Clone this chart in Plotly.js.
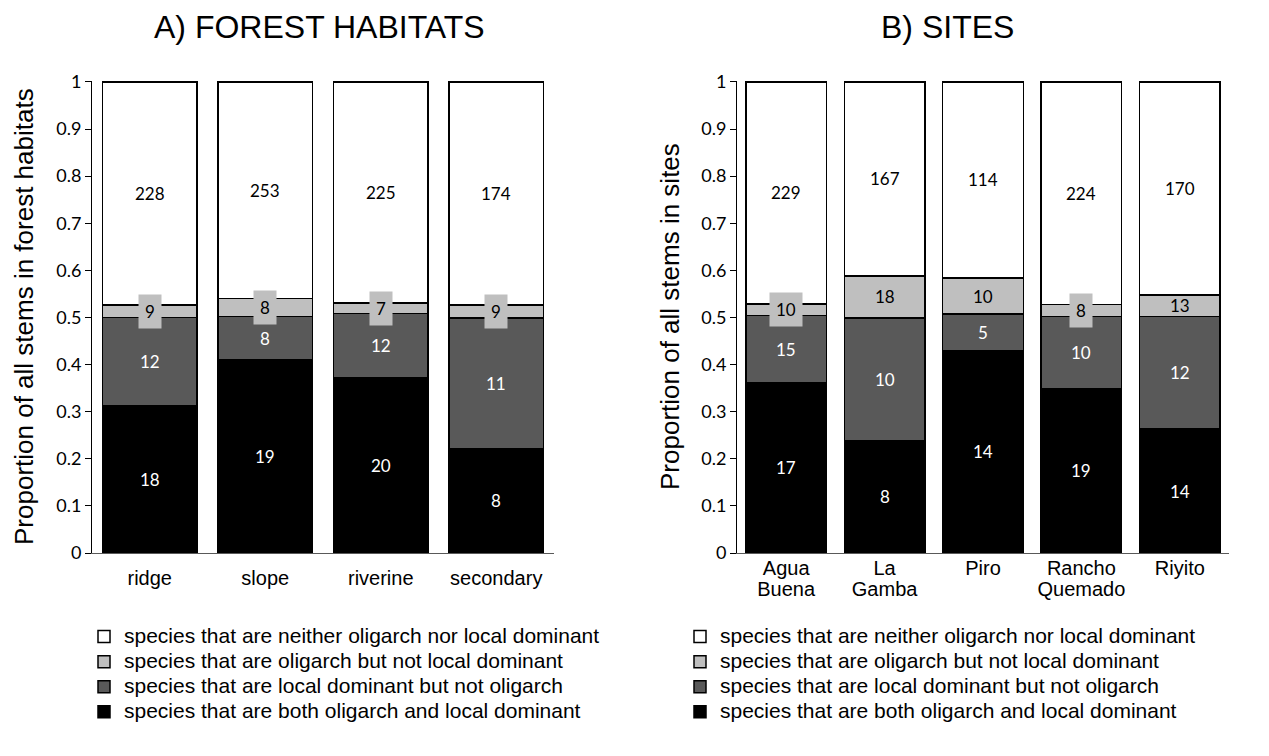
<!DOCTYPE html>
<html><head><meta charset="utf-8">
<script src="https://cdn.plot.ly/plotly-3.0.1.min.js"></script>
<style>html,body{margin:0;padding:0;background:#fff}#chart{width:1269px;height:756px}</style>
</head><body><div id="chart"></div>
<script>
// ---- data ----
const habitats = ['ridge', 'slope', 'riverine', 'secondary'];
const sites = ['Agua Buena', 'La Gamba', 'Piro', 'Rancho Quemado', 'Riyito'];
const seriesNames = [
  'species that are both oligarch and local dominant',
  'species that are local dominant but not oligarch',
  'species that are oligarch but not local dominant',
  'species that are neither oligarch nor local dominant'
];
// proportions of stems (bottom to top)
const habBoth    = [0.313, 0.410, 0.372, 0.221];
const habLocal   = [0.187, 0.092, 0.136, 0.278];
const habOlig    = [0.027, 0.038, 0.023, 0.028];
const habNeither = [0.473, 0.460, 0.469, 0.473];
// species counts shown as labels
const habBothN    = [18, 19, 20, 8];
const habLocalN   = [12, 8, 12, 11];
const habOligN    = [9, 8, 7, 9];
const habNeitherN = [228, 253, 225, 174];

const siteBoth    = [0.361, 0.239, 0.429, 0.349, 0.263];
const siteLocal   = [0.143, 0.260, 0.078, 0.153, 0.239];
const siteOlig    = [0.025, 0.089, 0.077, 0.026, 0.046];
const siteNeither = [0.471, 0.412, 0.416, 0.472, 0.452];
const siteBothN    = [17, 8, 14, 19, 14];
const siteLocalN   = [15, 10, 5, 10, 12];
const siteOligN    = [10, 18, 10, 8, 13];
const siteNeitherN = [229, 167, 114, 224, 170];

// ---- styling ----
const colors = ['#000000', '#595959', '#bfbfbf', '#ffffff'];
const labelColors = ['#ffffff', '#ffffff', '#000000', '#000000'];
const textFont = 'Liberation Sans, Arial, sans-serif';
const numFont = 'Lato, Carlito, sans-serif';
const big = (s, size) => '<span style="font-size:' + size + 'px">' + s + '</span>';

function panel(cats, seriesVals, seriesCounts, xa, ya, leg) {
  const traces = [];
  const anns = [];
  const base = cats.map(() => 0);
  seriesVals.forEach((vals, j) => {
    traces.push({
      type: 'bar', x: cats, y: vals, name: big(seriesNames[j], 21),
      xaxis: xa, yaxis: ya, legend: leg,
      marker: {color: colors[j], line: {color: '#000', width: 1.5}},
      hoverinfo: 'skip'
    });
    vals.forEach((v, i) => {
      const small = v < 0.04;
      anns.push({
        xref: xa, yref: ya, x: cats[i], y: base[i] + v / 2,
        xanchor: 'center', yanchor: 'middle',
        text: String(seriesCounts[j][i]), showarrow: false,
        font: {family: numFont, size: 17, color: labelColors[j]},
        bgcolor: small ? colors[j] : 'rgba(0,0,0,0)',
        borderpad: small ? 6 : 0, height: small ? 21 : undefined
      });
      base[i] += v;
    });
  });
  return {traces, anns};
}

const A = panel(habitats, [habBoth, habLocal, habOlig, habNeither],
  [habBothN, habLocalN, habOligN, habNeitherN], 'x', 'y', 'legend');
const B = panel(sites, [siteBoth, siteLocal, siteOlig, siteNeither],
  [siteBothN, siteLocalN, siteOligN, siteNeitherN], 'x2', 'y2', 'legend2');

const W = 1269, H = 756;
const px = v => v / W, py = v => 1 - v / H;

const yax = (domain) => ({
  domain: domain, range: [0, 1.002], tick0: 0, dtick: 0.1,
  ticks: 'outside', ticklen: 6, tickcolor: '#000', tickwidth: 1,
  showline: true, linecolor: '#000', linewidth: 1,
  showgrid: false, zeroline: false,
  tickfont: {family: numFont, size: 18, color: '#000'}
});
const ydom = [py(553), py(81)];

const titleAnn = (x, y, text, size, angle) => ({
  xref: 'paper', yref: 'paper', x: px(x), y: py(y), xanchor: 'center', yanchor: 'middle',
  text: text, showarrow: false, textangle: angle || 0,
  font: {family: textFont, size: size, color: '#000'}
});

const legendCfg = (x) => ({
  x: px(x), y: py(619), xanchor: 'left', yanchor: 'top',
  traceorder: 'reversed', bgcolor: 'rgba(0,0,0,0)',
  font: {family: textFont, size: 17, color: '#000'}
});

const layout = {
  width: W, height: H,
  margin: {l: 0, r: 0, t: 0, b: 0},
  paper_bgcolor: '#fff', plot_bgcolor: '#fff',
  barmode: 'stack', bargap: 0.18,
  showlegend: true,
  xaxis: {
    domain: [px(92), px(554)], anchor: 'y', type: 'category',
    showline: true, linecolor: '#595959', linewidth: 1, ticks: '',
    showgrid: false, ticklabelstandoff: 7,
    tickfont: {family: textFont, size: 20, color: '#000'}
  },
  yaxis: Object.assign(yax(ydom), {anchor: 'x'}),
  xaxis2: {
    domain: [px(737), px(1229)], anchor: 'y2', type: 'category',
    tickvals: sites,
    ticktext: sites.map(s => s.split(' ').map(w => big(w, 20)).join('<br>')),
    showline: true, linecolor: '#595959', linewidth: 1, ticks: '',
    showgrid: false, ticklabelstandoff: 2,
    tickfont: {family: textFont, size: 16, color: '#000'}
  },
  yaxis2: Object.assign(yax(ydom), {anchor: 'x2'}),
  legend: legendCfg(84),
  legend2: legendCfg(680),
  annotations: A.anns.concat(B.anns).concat([
    titleAnn(320, 27, 'A) FOREST HABITATS', 32),
    titleAnn(947, 27, 'B) SITES', 32),
    titleAnn(24, 317, 'Proportion of all stems in forest habitats', 26, -90),
    titleAnn(670, 317, 'Proportion of all stems in sites', 26, -90)
  ])
};

Plotly.newPlot('chart', A.traces.concat(B.traces), layout, {staticPlot: true});
</script></body></html>
